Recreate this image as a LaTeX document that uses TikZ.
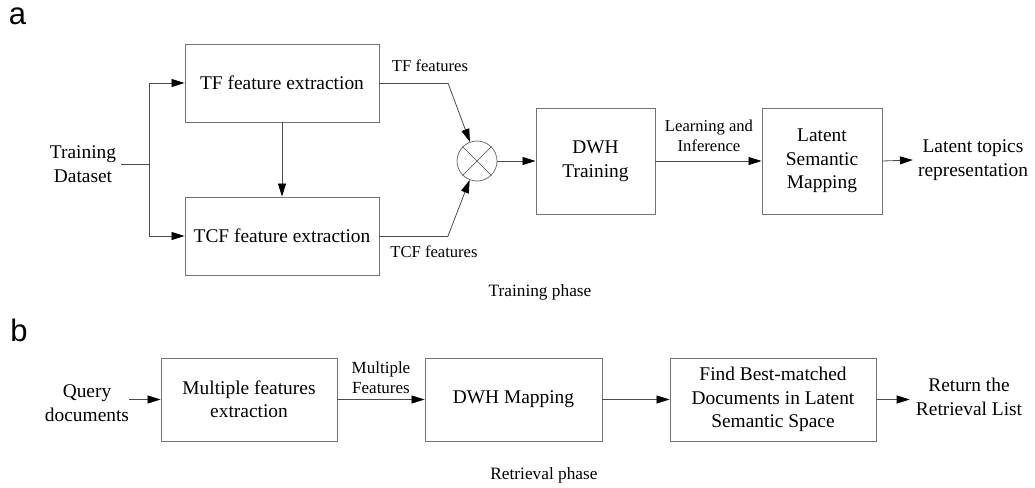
\documentclass[tikz,border=0pt]{standalone}
\usepackage{fontspec}
\setmainfont{Liberation Serif}
\newfontfamily\serifrm{Liberation Serif}
\newfontfamily\labfont{Liberation Sans}
\usetikzlibrary{arrows.meta}
\newcommand\bigtxt{\serifrm\fontsize{19.4}{23.5}\selectfont}
\newcommand\smalltxt{\serifrm\fontsize{16.6}{19.5}\selectfont}
\newcommand\phasetxt{\serifrm\fontsize{17.3}{20}\selectfont}
\begin{document}
\begin{tikzpicture}[x=1pt,y=-1pt,
  box/.style={draw=black!55,line width=0.9pt,minimum width=#1,inner sep=0pt,align=center,font=\bigtxt},
  txt/.style={inner sep=0pt,align=center,font=\bigtxt},
  lab/.style={inner sep=0pt,align=center,font=\smalltxt},
  conn/.style={draw=black!70,line width=0.8pt},
  arr/.style={conn,-{Triangle[length=13pt,width=8pt,color=black]}},
  panel/.style={inner sep=0pt,font=\labfont\fontsize{31}{31}\selectfont}
]
\useasboundingbox (0,0) rectangle (1035,487);

% ---------- panel a ----------
\node[panel] (la) at (17.5,16) {a};
\node[txt,inner xsep=5pt] (td) at (83,164) {Training\\Dataset};
\node[box=194pt,minimum height=78pt] (tf) at (282,83) {TF feature extraction};
\node[box=194pt,minimum height=78pt] (tcf) at (282,236) {TCF feature extraction};
\coordinate (j) at (149,168);
\coordinate (j1) at (448,83);
\coordinate (j2) at (448,236);
\node[circle,draw=black!55,line width=0.8pt,minimum size=40pt,inner sep=0pt] (c) at (477,161) {};
\draw[conn,line width=0.6pt] (c.north west) -- (c.south east) (c.north east) -- (c.south west);
\node[box=119pt,minimum height=106pt] (dwh) at (595.5,161) {DWH\\Training};
\node[box=120pt,minimum height=106pt] (lsm) at (822,161) {Latent\\Semantic\\Mapping};
\node[txt,inner xsep=5pt] (ltr) at (973,160) {Latent topics\\representation};

\node[lab] (ltf) at (430,66) {TF features};
\node[lab] (ltcf) at (434,252) {TCF features};
\node[lab] (lli) at (709,136) {Learning and\\Inference};
\node[inner sep=0pt,font=\phasetxt] (tp) at (540,292) {Training phase};

\draw[conn] (td.east) -- (j |- td.east);
\draw[arr] (j |- td.east) |- (tf.west);
\draw[arr] (j |- td.east) |- (tcf.west);
\draw[arr] (tf.south) -- (tcf.north);
\draw[conn] (tf.east) -- (j1);
\draw[arr] (j1) -- (c);
\draw[conn] (tcf.east) -- (j2);
\draw[arr] (j2) -- (c);
\draw[arr] (c.east) -- (dwh.west);
\draw[arr] (dwh.east) -- (lsm.west);
\draw[arr] (lsm.east) -- (ltr.west);

% ---------- panel b ----------
\node[panel] (lb) at (19,330) {b};
\node[txt] (qd) at (87,403) {Query\\documents};
\node[box=176pt,minimum height=83pt] (mfe) at (249,399.5) {Multiple features\\extraction};
\node[box=177pt,minimum height=83pt] (dwm) at (513.5,399.5) {DWH Mapping};
\node[box=206pt,minimum height=83pt] (fbm) at (773,399.5) {Find Best-matched\\Documents in Latent\\Semantic Space};
\node[txt,inner xsep=6pt] (ret) at (969,397) {Return the\\Retrieval List};
\node[lab,font=\serifrm\fontsize{17}{20}\selectfont] (lmf) at (381,378) {Multiple\\Features};
\node[inner sep=0pt,font=\phasetxt] (rp) at (544,475) {Retrieval phase};

\draw[arr] (qd.east |- mfe.west) -- (mfe.west);
\draw[arr] (mfe.east) -- (dwm.west);
\draw[arr] (dwm.east) -- (fbm.west);
\draw[arr] (fbm.east) -- (ret.west |- fbm.east);
\end{tikzpicture}
\end{document}
